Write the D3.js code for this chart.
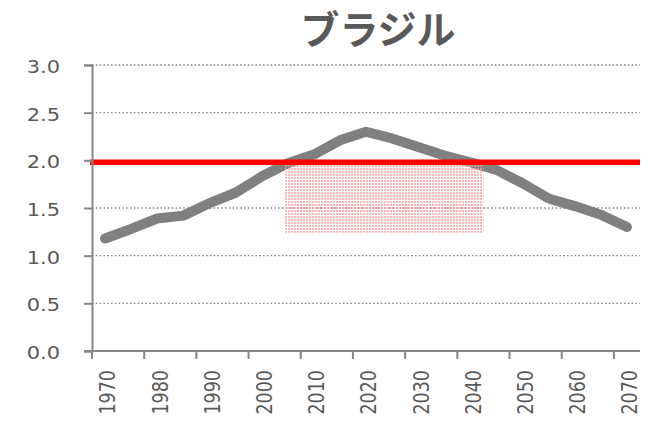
<!DOCTYPE html>
<html><head><meta charset="utf-8">
<script src="https://cdn.jsdelivr.net/npm/d3@7"></script>
<style>html,body{margin:0;padding:0;background:#fff;}svg{display:block;}</style>
</head><body>
<svg id="chart" width="655" height="423"></svg>
<script>
const title = "ブラジル";
const periods = ["1970","1975","1980","1985","1990","1995","2000","2005","2010","2015","2020","2025","2030","2035","2040","2045","2050","2055","2060","2065","2070"];
const tfr = [1.18,1.28,1.39,1.42,1.55,1.66,1.83,1.97,2.06,2.21,2.30,2.23,2.14,2.05,1.98,1.90,1.76,1.60,1.52,1.43,1.30];
const xLabels = ["1970","1980","1990","2000","2010","2020","2030","2040","2050","2060","2070"];
const yTicks = [0,0.5,1.0,1.5,2.0,2.5,3.0];
const refLevel = [1.98];
const bonusYears = [2007,2045];
const bonusRange = [1.24,1.95];

(function(){
const svg = d3.select("#chart");
const mL = 92, mR = 640, mT = 65, mB = 351;
const x = d3.scaleBand().domain(periods).range([mL, mR]).padding(0);
const y = d3.scaleLinear().domain([0,3]).range([mB, mT]);
const yearX = d3.scaleLinear().domain([1970, 2075]).range([mL, mR]);

const grey = "#868686", txt = "#595959";
const font = "'DejaVu Sans', Verdana, sans-serif";
const fs = 17.5, stretch = 1.2;

const defs = svg.append("defs");
const pat = defs.append("pattern").attr("id","dots").attr("patternUnits","userSpaceOnUse")
  .attr("width",3).attr("height",3);
pat.append("rect").attr("x",0).attr("y",0).attr("width",2).attr("height",2).attr("fill","#ff9a9a").attr("opacity",0.75);

svg.append("g").selectAll("line").data(yTicks.filter(d=>d>0)).join("line")
  .attr("x1", mL).attr("x2", mR).attr("y1", d=>y(d)).attr("y2", d=>y(d))
  .attr("stroke", "#858585").attr("stroke-width", 1.4).attr("stroke-dasharray","1.6,2.2");

const line = d3.line().x((d,i)=>x(periods[i]) + x.bandwidth()/2).y(d=>y(d));
svg.append("path").datum(tfr).attr("d", line).attr("fill","none")
  .attr("stroke","#808080").attr("stroke-width",10).attr("stroke-linecap","round").attr("stroke-linejoin","round");

svg.append("rect").attr("x", yearX(bonusYears[0])).attr("width", yearX(bonusYears[1]) - yearX(bonusYears[0]))
  .attr("y", y(bonusRange[1])).attr("height", y(bonusRange[0]) - y(bonusRange[1]))
  .attr("fill","url(#dots)");

svg.append("g").selectAll("line").data(refLevel).join("line")
  .attr("x1", mL-2).attr("x2", mR).attr("y1", d=>y(d)).attr("y2", d=>y(d))
  .attr("stroke","#ff0000").attr("stroke-width",5.5);

const yAxis = d3.axisLeft(y).tickValues(yTicks).tickFormat(d3.format(".1f")).tickSize(8);
const gy = svg.append("g").attr("transform",`translate(${mL},0)`).call(yAxis);
gy.select(".domain").attr("stroke",grey).attr("stroke-width",2);
gy.selectAll(".tick line").attr("stroke",grey).attr("stroke-width",2);
gy.selectAll("text").attr("fill",txt).attr("font-family",font).attr("font-size",fs)
  .attr("x",0).attr("dy","0.38em").attr("text-anchor","end")
  .attr("transform",`translate(-32,1) scale(${stretch},1)`);

const labelSet = new Set(xLabels);
const xAxis = d3.axisBottom(x).tickValues(periods.filter(p=>labelSet.has(p))).tickSize(0).tickFormat(d=>d);
const gx = svg.append("g").attr("transform",`translate(0,${mB})`).call(xAxis);
gx.select(".domain").remove();
gx.append("line").attr("x1", mL-8).attr("x2", mR).attr("y1",0).attr("y2",0).attr("stroke",grey).attr("stroke-width",2);
gx.selectAll(".tick line").remove();
gx.selectAll(".tick").append("line")
  .attr("x1", -x.bandwidth()/2).attr("x2", -x.bandwidth()/2).attr("y1",0).attr("y2",8)
  .attr("stroke",grey).attr("stroke-width",2);
gx.selectAll(".tick text").attr("fill",txt).attr("font-family",font).attr("font-size",fs)
  .attr("text-anchor","end").attr("dy","0.36em").attr("y",0).attr("x",0)
  .attr("transform",`translate(2.5,19) scale(${stretch+0.05},1) rotate(-90)`);

svg.append("text").attr("x",378).attr("y",27).attr("text-anchor","middle").attr("dominant-baseline","central")
  .attr("font-family","'Noto Sans CJK JP', sans-serif").attr("font-weight","bold").attr("font-size",39)
  .attr("fill",txt).text(title);
})();
</script>
</body></html>
